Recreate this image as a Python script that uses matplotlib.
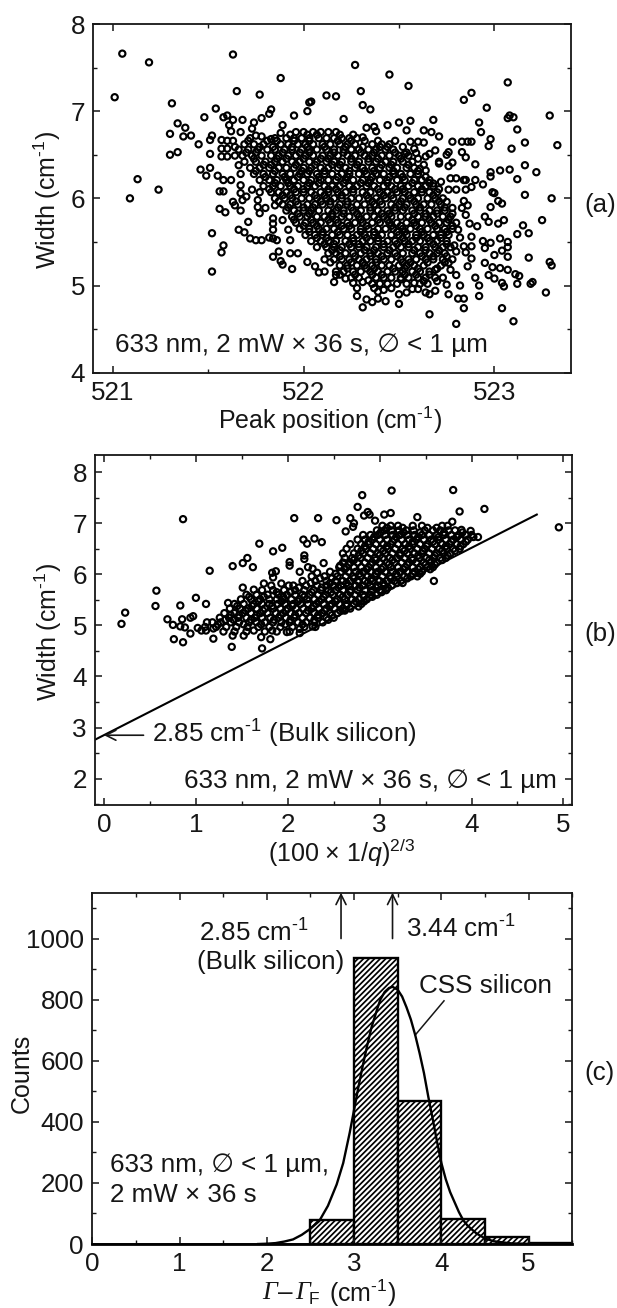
import numpy as np
import matplotlib
matplotlib.use('Agg')
import matplotlib.pyplot as plt
from matplotlib.ticker import MultipleLocator

plt.rcParams['font.family'] = ['Liberation Sans', 'DejaVu Sans']
plt.rcParams['mathtext.fontset'] = 'custom'
plt.rcParams['mathtext.rm'] = 'Liberation Sans'
plt.rcParams['mathtext.it'] = 'Liberation Serif:italic'
plt.rcParams['mathtext.sf'] = 'Liberation Sans:italic'
plt.rcParams['mathtext.default'] = 'rm'
plt.rcParams['hatch.linewidth'] = 1.25

INK = '#161616'

# panel (a): loose points around the cloud, (peak position, width)
loose_a = [
    (521.01,7.16),(521.05,7.66),(521.19,7.56),(521.13,6.22),(521.09,6.00),(521.24,6.10),(521.31,7.09),(521.30,6.74),
    (521.34,6.86),(521.38,6.81),(521.37,6.71),(521.41,6.72),(521.30,6.50),(521.34,6.53),(521.45,6.62),(521.48,6.93),
    (521.54,7.03),(521.52,6.72),(521.51,6.67),(521.51,6.51),(521.46,6.33),(521.51,6.35),(521.49,6.26),(521.55,6.26),
    (521.58,6.21),(521.56,6.08),(521.58,6.08),(521.56,5.88),(521.59,5.84),(521.52,5.60),(521.58,5.46),(521.57,5.38),
    (521.52,5.16),(521.63,7.65),(521.65,7.23),(521.77,7.19),(521.88,7.38),(522.12,7.18),(522.17,7.17),(522.04,7.11),
    (522.03,7.10),(522.02,7.00),(521.83,7.02),(521.82,6.97),(522.21,6.91),(522.27,7.53),(522.30,7.23),(522.31,7.07),
    (522.35,7.02),(522.45,7.42),(522.55,7.29),(522.84,7.13),(522.88,7.21),(522.96,7.04),(523.07,7.33),(523.29,6.95),
    (523.33,6.61),(523.07,6.92),(523.08,6.95),(523.10,6.93),(523.12,6.79),(523.16,6.64),(523.09,6.57),(523.16,6.38),
    (523.22,6.30),(523.12,6.22),(523.16,6.04),(523.30,6.00),(523.25,5.75),(523.15,5.69),(523.18,5.60),(523.12,5.59),
    (523.18,5.32),(523.29,5.27),(523.30,5.23),(523.27,4.92),(523.20,5.04),(523.19,5.02),(523.10,4.59),(523.04,4.74),
    (522.80,4.56),(522.66,4.67),(522.31,4.75),(522.50,4.79),(522.84,4.74),(522.84,4.85),(522.81,4.85),(522.92,4.88),
    (522.76,4.90),(522.28,4.88),(522.33,4.84),(522.36,4.81),(522.39,4.85),(522.43,4.82),(522.92,6.87),(522.93,6.76),
    (522.98,6.68),(522.97,6.60),(522.90,6.39),(522.98,6.30),(522.98,6.25),(523.03,6.32),(523.08,6.33),(522.90,6.21),
    (522.94,6.16),(522.99,6.07),(523.00,6.06),(523.02,5.97),(523.04,5.94),(522.98,5.90),(522.95,5.79),(522.97,5.73),
    (523.02,5.71),(523.05,5.75),(522.94,5.51),(522.98,5.49),(523.03,5.54),(523.07,5.50),(523.07,5.44),(522.95,5.43),
    (523.04,5.40),(523.00,5.35),(523.07,5.33),(523.03,5.20),(523.07,5.18),(523.11,5.13),(523.13,5.11),(523.12,5.02),
    (523.00,5.08),(523.04,5.03),(523.05,4.99),(522.97,5.12),(522.99,5.21),(522.95,5.26),(522.92,5.00),(522.90,5.09),
    (522.86,5.22),(522.88,5.31),(522.82,5.00),(522.80,5.12),(522.75,5.01),(522.78,6.65),(522.83,6.65),(522.86,6.65),
    (522.88,6.65),(522.76,6.53),(522.75,6.50),(522.83,6.53),(522.85,6.47),(522.71,6.40),(522.76,6.37),(522.78,6.41),
    (522.77,6.23),(522.80,6.23),(522.84,6.21),(522.85,6.21),(522.72,6.19),(522.80,6.10),(522.85,6.10),(522.88,6.13),
    (522.76,6.10),(522.84,5.97),(522.86,5.92),(522.78,5.89),(522.83,5.89),(522.75,5.96),(522.85,5.81),(522.87,5.71),
    (522.91,5.68),(522.81,5.64),(522.78,5.65),(522.82,5.55),(522.88,5.56),(522.79,5.46),(522.84,5.45),(522.88,5.45),
    (522.80,5.39),(522.85,5.38),(522.71,6.71),(522.67,6.76),(522.63,6.78),(522.68,6.90),(522.56,6.89),(522.50,6.87),
    (522.54,6.78),(522.44,6.84),(522.37,6.82),(522.33,6.81),(522.38,6.77),(522.31,6.70),(522.56,6.65),(522.60,6.65),
    (522.63,6.64),(522.58,6.57),(522.69,6.55),(522.66,6.51),(522.64,6.48),(522.59,6.52),(522.53,6.51),(522.71,6.42),
    (522.64,6.32),(522.61,6.34),(522.68,6.17),(522.66,6.21),(521.58,6.93),(521.60,6.95),(521.63,6.90),(521.68,6.90),
    (521.74,6.87),(521.78,6.92),(521.61,6.84),(521.62,6.77),(521.67,6.76),(521.73,6.80),(521.75,6.72),(521.78,6.71),
    (521.83,6.68),(521.89,6.84),(521.88,6.75),(521.95,6.95),(521.57,6.67),(521.60,6.66),(521.57,6.57),(521.60,6.57),
    (521.57,6.48),(521.60,6.48),(521.63,6.66),(521.64,6.59),(521.66,6.38),(521.64,6.49),(521.62,6.21),(521.67,6.15),
    (521.67,6.28),(521.67,6.06),(521.70,6.02),(521.68,5.98),(521.67,5.86),(521.63,5.96),(521.64,5.92),(521.71,5.73),
    (521.66,5.64),(521.69,5.61),(521.72,5.54),(521.75,5.52),(521.78,5.52),(521.82,5.55),(521.84,5.54),(521.86,5.52),
    (521.73,6.10),(521.77,6.07),(521.76,5.98),(521.76,5.90),(521.77,5.83),(521.80,5.89),(521.85,5.92),(521.89,5.75),
    (521.84,5.77),(521.84,5.71),(521.84,5.64),(521.92,5.64),(521.93,5.52),(521.93,5.37),(521.87,5.39),(521.84,5.33),
    (521.88,5.28),(521.89,5.24),(521.94,5.19),(521.97,5.37),(522.02,5.27),(522.06,5.22),(522.08,5.15),(522.11,5.16),
    (522.13,5.37),(522.11,5.30),(522.16,5.04),(522.17,5.12),(522.22,5.08),(522.26,5.03),(522.28,4.97),(522.31,5.04),
    (522.34,5.06),(522.37,4.97),(522.39,4.93),(522.42,4.95),(522.46,4.97),(522.50,4.90),(522.54,4.92),(522.57,4.96),
    (522.60,4.96),(522.64,4.92),(522.66,4.90),(522.69,4.94),(522.70,5.05),(522.69,5.18),(522.63,5.05),(522.58,5.03),
    (522.51,5.07),(522.73,5.09),(522.77,5.18),(522.76,5.26),
]

# panel (a): dense part of the cloud, one row of peak positions per width
core_a = [
    (6.76,[521.96,522.00,522.05,522.09,522.13,522.17]),
    (6.69,[521.72,521.85,521.91,521.95,521.99,522.03,522.08,522.12,522.16,522.20,522.24,522.28]),
    (6.62,[521.69,521.74,521.79,521.88,521.92,521.97,522.01,522.05,522.10,522.14,522.19,522.23,522.27,522.36,522.41,522.45]),
    (6.56,[521.66,521.71,521.76,521.81,521.85,521.90,521.94,521.99,522.03,522.07,522.12,522.16,522.21,522.25,522.29,522.34,522.38,522.43,522.47]),
    (6.49,[521.68,521.73,521.78,521.83,521.87,521.92,521.96,522.01,522.05,522.10,522.14,522.18,522.23,522.27,522.32,522.36,522.41,522.45,522.50,522.55]),
    (6.42,[521.69,521.75,521.80,521.85,521.89,521.94,521.98,522.03,522.07,522.12,522.16,522.20,522.25,522.29,522.34,522.38,522.43,522.47,522.52,522.57]),
    (6.35,[521.72,521.77,521.82,521.87,521.91,521.95,522.00,522.04,522.09,522.13,522.18,522.22,522.27,522.31,522.36,522.40,522.45,522.49,522.54,522.58]),
    (6.28,[521.74,521.79,521.84,521.89,521.93,521.98,522.02,522.07,522.11,522.15,522.20,522.24,522.29,522.33,522.38,522.42,522.47,522.51,522.56,522.60]),
    (6.21,[521.77,521.82,521.86,521.91,521.95,522.00,522.04,522.09,522.13,522.17,522.22,522.26,522.31,522.35,522.40,522.44,522.49,522.53,522.58,522.62]),
    (6.14,[521.79,521.84,521.88,521.93,521.97,522.02,522.06,522.11,522.15,522.19,522.24,522.28,522.33,522.37,522.42,522.46,522.51,522.55,522.60,522.64,522.68]),
    (6.07,[521.83,521.87,521.91,521.96,522.00,522.04,522.09,522.13,522.18,522.22,522.26,522.31,522.35,522.40,522.44,522.49,522.53,522.58,522.62,522.66,522.70]),
    (6.00,[521.85,521.90,521.94,521.99,522.03,522.07,522.12,522.16,522.20,522.25,522.29,522.34,522.38,522.43,522.47,522.52,522.56,522.60,522.65,522.69,522.73]),
    (5.93,[521.89,521.93,521.97,522.02,522.06,522.10,522.14,522.19,522.23,522.28,522.32,522.37,522.41,522.46,522.50,522.54,522.59,522.63,522.67,522.72]),
    (5.86,[521.91,521.95,522.00,522.04,522.08,522.13,522.17,522.21,522.26,522.30,522.35,522.39,522.44,522.48,522.52,522.57,522.61,522.66,522.70,522.74]),
    (5.79,[521.94,521.98,522.02,522.07,522.11,522.15,522.20,522.24,522.29,522.33,522.37,522.42,522.46,522.51,522.55,522.60,522.64,522.68,522.73,522.77]),
    (5.72,[521.96,522.01,522.05,522.09,522.14,522.18,522.23,522.27,522.31,522.36,522.40,522.45,522.49,522.54,522.58,522.62,522.67,522.71,522.75,522.80]),
    (5.65,[521.98,522.03,522.08,522.12,522.16,522.21,522.25,522.30,522.34,522.39,522.43,522.47,522.52,522.56,522.61,522.65,522.70,522.74]),
    (5.58,[522.01,522.06,522.10,522.15,522.19,522.23,522.28,522.32,522.37,522.41,522.46,522.50,522.54,522.59,522.63,522.68,522.72,522.76]),
    (5.51,[522.04,522.09,522.13,522.17,522.22,522.26,522.31,522.35,522.39,522.44,522.48,522.53,522.57,522.61,522.66,522.70,522.75]),
    (5.44,[522.07,522.12,522.16,522.20,522.25,522.29,522.33,522.38,522.42,522.47,522.51,522.55,522.60,522.64,522.69,522.73,522.77]),
    (5.37,[522.17,522.22,522.26,522.30,522.35,522.39,522.44,522.48,522.52,522.57,522.61,522.66,522.70,522.74]),
    (5.30,[522.16,522.20,522.24,522.29,522.33,522.38,522.42,522.46,522.51,522.55,522.59,522.64,522.68,522.73,522.78]),
    (5.23,[522.19,522.23,522.28,522.32,522.36,522.41,522.45,522.50,522.54,522.58,522.63,522.72]),
    (5.16,[522.17,522.21,522.26,522.30,522.35,522.39,522.44,522.48,522.52,522.57,522.61,522.66]),
    (5.09,[522.25,522.29,522.38,522.42,522.46,522.51,522.55,522.60,522.64,522.69]),
    (5.02,[522.36,522.40,522.44,522.49,522.54,522.61,522.65]),
]

# panel (a): second set of rows inside the cloud, overlapping the first
overlap_a = [
    (6.73,[521.93,522.02,522.07,522.19,522.26]),
    (6.66,[521.71,521.81,521.86,521.95,522.03,522.18,522.25,522.32,522.39,522.48]),
    (6.59,[521.77,521.84,521.94,522.02,522.11,522.22,522.31,522.40,522.44,522.52]),
    (6.525,[521.70,521.75,521.89,521.98,522.03,522.16,522.21,522.30,522.37,522.48,522.54]),
    (6.455,[521.74,521.86,521.91,522.00,522.09,522.13,522.25,522.34,522.39,522.51,522.60]),
    (6.385,[521.79,521.83,521.96,522.06,522.15,522.19,522.28,522.41,522.46,522.55,522.63]),
    (6.315,[521.75,521.85,521.99,522.03,522.11,522.24,522.32,522.37,522.47,522.60]),
    (6.245,[521.80,521.90,521.97,522.08,522.18,522.23,522.36,522.45,522.52,522.64]),
    (6.175,[521.85,521.92,522.03,522.08,522.21,522.30,522.34,522.44,522.57,522.66]),
    (6.105,[521.82,521.95,522.00,522.13,522.17,522.26,522.39,522.48,522.52,522.62,522.71]),
    (6.035,[521.89,521.93,522.06,522.11,522.20,522.33,522.42,522.46,522.55,522.68]),
    (5.965,[521.87,521.96,522.09,522.14,522.23,522.36,522.40,522.51,522.58,522.71]),
    (5.895,[521.92,522.00,522.05,522.18,522.25,522.35,522.48,522.53,522.61,522.74]),
    (5.825,[521.97,522.03,522.15,522.21,522.28,522.41,522.45,522.58,522.64,522.70,522.78]),
    (5.755,[521.95,522.04,522.13,522.17,522.30,522.39,522.44,522.57,522.66,522.76]),
    (5.685,[522.00,522.07,522.20,522.24,522.33,522.46,522.51,522.59,522.69,522.78]),
    (5.615,[522.03,522.10,522.18,522.30,522.37,522.49,522.53,522.62,522.75]),
    (5.545,[522.07,522.12,522.26,522.33,522.39,522.52,522.59,522.65,522.72]),
    (5.475,[522.11,522.16,522.24,522.29,522.42,522.49,522.55,522.68,522.75]),
    (5.405,[522.15,522.19,522.32,522.37,522.45,522.58,522.64,522.71]),
    (5.335,[522.19,522.27,522.35,522.41,522.49,522.62,522.68,522.75]),
    (5.265,[522.14,522.25,522.31,522.38,522.52,522.56,522.65,522.74]),
    (5.195,[522.23,522.33,522.37,522.47,522.53,522.60,522.70]),
    (5.125,[522.19,522.27,522.36,522.41,522.53,522.59,522.66]),
]

# panel (b): loose points, (x, width)
loose_b = [
    (0.19,5.03),(0.23,5.25),(0.56,5.38),(0.57,5.68),(0.69,5.12),(0.75,5.01),(0.83,5.39),(0.85,5.12),(0.86,7.08),(0.94,5.15),
    (0.97,5.18),(1.00,5.54),(1.11,5.42),(1.15,6.07),(0.76,4.73),(0.86,4.67),(0.83,4.98),(0.88,4.96),(0.94,4.84),(1.02,4.95),
    (1.06,4.90),(1.11,4.90),(1.12,5.06),(1.19,4.74),(1.19,4.94),(1.40,6.16),(1.51,6.22),(1.56,6.32),(1.62,6.14),(1.69,6.60),
    (1.84,6.45),(1.94,6.52),(1.83,6.03),(1.87,6.06),(1.84,5.94),(2.02,6.24),(2.02,6.17),(2.07,7.10),(2.17,6.68),(2.21,6.60),
    (2.29,6.70),(2.37,6.63),(2.33,7.10),(2.18,6.37),(2.18,6.30),(2.22,6.14),(2.27,6.11),(2.32,6.03),(2.39,6.22),(2.53,7.06),
    (2.68,7.10),(2.72,7.00),(2.71,6.93),(2.63,6.84),(2.76,7.32),(2.81,7.55),(2.83,7.15),(2.87,7.22),(2.89,7.17),(2.95,7.05),
    (3.05,7.17),(3.12,7.20),(3.13,7.64),(3.41,7.12),(3.80,7.65),(3.87,7.23),(4.14,7.28),(3.79,7.03),(4.95,6.92),(3.59,5.87),
    (4.07,6.73),(3.99,6.85),(3.89,6.87),(2.77,5.37),(1.39,4.58),(1.72,4.55),(1.81,4.73),(1.71,4.77),(1.52,4.80),(1.40,4.80),
    (1.99,4.87),(2.13,4.85),(2.27,4.98),(2.13,4.93),(1.83,4.90),(1.63,4.90),(1.35,5.44),(1.63,5.70),(1.51,5.74),(1.74,5.82),
    (1.93,5.82),(2.01,5.78),(2.13,6.05),(2.57,6.17),(2.61,6.22),
]

# panel (b): dense band above the line, one row of x values per width
core_b = [
    (4.88,[1.30,1.42,1.55,1.75,1.88,2.02]),
    (4.97,[1.10,1.22,1.33,1.44,1.56,1.68,1.80,1.92,2.05,2.18,2.30]),
    (5.06,[1.18,1.27,1.38,1.47,1.58,1.66,1.75,1.84,1.93,2.02,2.11,2.20,2.29,2.38]),
    (5.15,[1.26,1.36,1.46,1.55,1.64,1.72,1.81,1.90,1.98,2.07,2.16,2.24,2.33,2.42,2.50]),
    (5.24,[1.31,1.42,1.51,1.60,1.70,1.78,1.87,1.95,2.03,2.12,2.20,2.29,2.37,2.46,2.54]),
    (5.33,[1.37,1.48,1.57,1.66,1.75,1.84,1.92,2.00,2.09,2.17,2.26,2.34,2.42,2.51,2.60,2.68]),
    (5.42,[1.42,1.52,1.63,1.72,1.80,1.89,1.97,2.06,2.14,2.22,2.31,2.39,2.48,2.56,2.64,2.72,2.80]),
    (5.51,[1.49,1.60,1.70,1.80,1.88,1.96,2.04,2.13,2.21,2.29,2.37,2.45,2.54,2.62,2.70,2.78,2.86]),
    (5.60,[1.55,1.66,1.78,1.90,1.99,2.08,2.16,2.24,2.33,2.41,2.49,2.57,2.65,2.73,2.82,2.90,2.97]),
    (5.69,[1.72,1.84,1.96,2.08,2.18,2.28,2.36,2.44,2.52,2.60,2.68,2.76,2.84,2.92,3.00,3.07]),
    (5.78,[1.82,2.06,2.20,2.32,2.42,2.50,2.58,2.66,2.74,2.82,2.90,2.98,3.05,3.13]),
    (5.87,[2.16,2.30,2.42,2.52,2.60,2.68,2.76,2.84,2.92,3.00,3.08,3.16,3.23]),
    (5.96,[2.26,2.40,2.54,2.63,2.71,2.79,2.87,2.95,3.03,3.11,3.19,3.27,3.34,3.41]),
    (6.05,[2.46,2.58,2.66,2.74,2.82,2.90,2.98,3.06,3.14,3.22,3.30,3.38,3.46]),
    (6.14,[2.56,2.64,2.72,2.80,2.88,2.96,3.04,3.12,3.20,3.28,3.36,3.44,3.52,3.58]),
    (6.23,[2.60,2.68,2.76,2.84,2.92,3.00,3.08,3.16,3.24,3.32,3.40,3.48,3.56,3.62]),
    (6.32,[2.62,2.70,2.79,2.87,2.95,3.03,3.11,3.19,3.27,3.35,3.43,3.51,3.59,3.66,3.72]),
    (6.41,[2.60,2.72,2.82,2.90,2.98,3.06,3.14,3.22,3.30,3.38,3.46,3.54,3.62,3.70,3.77]),
    (6.50,[2.64,2.76,2.85,2.93,3.01,3.09,3.17,3.25,3.33,3.41,3.49,3.57,3.65,3.73,3.80,3.87]),
    (6.59,[2.68,2.80,2.88,2.96,3.04,3.12,3.20,3.28,3.36,3.44,3.52,3.60,3.68,3.76,3.84,3.91]),
    (6.68,[2.76,2.84,2.92,3.00,3.08,3.16,3.24,3.32,3.40,3.48,3.56,3.64,3.72,3.80,3.88,3.96]),
    (6.77,[2.82,2.90,2.98,3.06,3.14,3.22,3.30,3.38,3.46,3.54,3.62,3.70,3.78,3.86,3.94,4.00]),
    (6.86,[2.97,3.05,3.13,3.21,3.29,3.37,3.49,3.58,3.66,3.75,3.82]),
    (6.95,[3.03,3.12,3.20,3.36,3.46,3.68,3.74]),
]

# panel (b): second set of rows, overlapping the first
overlap_b = [
    (5.02,[1.24,1.52,1.71,1.97,2.16]),
    (5.11,[1.32,1.41,1.60,1.85,2.03,2.29,2.44]),
    (5.20,[1.38,1.47,1.66,1.92,2.08,2.33,2.48]),
    (5.29,[1.54,1.73,1.98,2.22,2.40,2.57,2.62]),
    (5.38,[1.45,1.61,1.83,2.05,2.28,2.46,2.64]),
    (5.47,[1.68,1.93,2.11,2.34,2.52,2.74,2.83]),
    (5.56,[1.58,1.74,1.95,2.18,2.39,2.60,2.83,2.92]),
    (5.65,[1.88,2.03,2.26,2.47,2.68,2.91,3.02]),
    (5.74,[2.12,2.37,2.55,2.78,2.96,3.09]),
    (5.83,[2.25,2.46,2.64,2.87,3.04,3.19,3.25]),
    (5.92,[2.35,2.48,2.72,2.91,3.12,3.30]),
    (6.01,[2.52,2.78,2.96,3.18,3.36,3.44]),
    (6.10,[2.62,2.86,3.02,3.26,3.42,3.55]),
    (6.19,[2.66,2.90,3.10,3.30,3.50,3.60]),
    (6.28,[2.72,2.96,3.14,3.36,3.54,3.68]),
    (6.37,[2.77,3.00,3.22,3.42,3.60,3.74]),
    (6.46,[2.80,3.04,3.27,3.47,3.68,3.82]),
    (6.55,[2.84,3.08,3.32,3.51,3.72,3.88]),
    (6.64,[2.88,3.14,3.36,3.58,3.78,3.94]),
    (6.73,[2.94,3.18,3.42,3.64,3.84,4.02]),
    (6.82,[3.01,3.26,3.44,3.70,3.90]),
    (6.91,[3.08,3.25,3.52,3.62]),
]

# panel (b) straight line
line_x = [-0.09, 4.71]
line_y = [2.77, 7.17]

# panel (c) histogram
bin_left = [2.5, 3.0, 3.5, 4.0, 4.5, 5.0]
bin_counts = [78, 936, 468, 83, 24, 3]

# panel (c) fitted curve
curve_x = [1.9, 2.0, 2.1, 2.2, 2.3, 2.4, 2.5, 2.6, 2.7, 2.8, 2.875, 2.95, 3.0, 3.05, 3.1, 3.15, 3.2, 3.26, 3.3, 3.35,
           3.4, 3.44, 3.5, 3.55, 3.6, 3.65, 3.7, 3.75, 3.8, 3.85, 3.9, 3.95, 4.0, 4.05, 4.1, 4.2, 4.25, 4.3, 4.4, 4.5, 4.6, 4.8, 5.0]
curve_y = [0, 1, 3, 8, 15, 30, 50, 75, 125, 195, 265, 365, 440, 515, 585, 650, 710, 765, 800, 825,
           838, 842, 832, 810, 775, 735, 684, 625, 560, 482, 410, 335, 265, 212, 170, 105, 78, 60, 35, 18, 9, 2, 0]

annot = '633 nm, 2 mW × 36 s, ∅ < 1 µm'
CM = 'cm$^{\\text{-1}}$'
W, H = 617, 1308
FS = 18.7
LAB = 18


def make_axes(fig, l, t, r, b):
    ax = fig.add_axes([l/W, 1-b/H, (r-l)/W, (b-t)/H])
    for s in ax.spines.values():
        s.set_linewidth(1.3)
        s.set_color(INK)
    ax.tick_params(which='major', direction='in', top=True, right=True, length=5, width=1.1,
                   labelsize=FS, colors=INK, pad=6)
    ax.tick_params(which='minor', direction='in', top=True, right=True, length=3, width=1.0, colors=INK)
    return ax


def unpack(loose, *rows):
    xs = [p[0] for p in loose]
    ys = [p[1] for p in loose]
    for core in rows:
        for y, row in core:
            for x in row:
                xs.append(x)
                ys.append(y)
    return xs, ys


def ylab_at(ax, text, px, l, r, py, t, b):
    ax.set_ylabel(text, fontsize=LAB, color=INK, va='center')
    ax.yaxis.set_label_coords((px-l)/(r-l), (b-py)/(b-t))


def xlab_at(ax, text, px, l, r, py, t, b):
    ax.set_xlabel(text, fontsize=LAB, color=INK, va='center')
    ax.xaxis.set_label_coords((px-l)/(r-l), (b-py)/(b-t))


def driver():
    fig = plt.figure(figsize=(W/100, H/100), dpi=100)

    # (a)
    ax = make_axes(fig, 93.3, 24, 570.7, 372.7)
    x, y = unpack(loose_a, core_a, overlap_a)
    ax.scatter(x, y, s=20, facecolors='none', edgecolors='black', linewidths=1.55)
    ax.set_xlim(520.898, 523.40)
    ax.set_ylim(4, 8)
    ax.xaxis.set_major_locator(MultipleLocator(1))
    ax.xaxis.set_minor_locator(MultipleLocator(0.5))
    ax.yaxis.set_major_locator(MultipleLocator(1))
    ax.yaxis.set_minor_locator(MultipleLocator(0.5))
    xlab_at(ax, 'Peak position (' + CM + ')', 330, 93.3, 570.7, 420, 24, 372.7)
    ylab_at(ax, 'Width (' + CM + ')', 47, 93.3, 570.7, 200, 24, 372.7)
    ax.text(521.01, 4.32, annot, fontsize=FS, color=INK, va='center')
    fig.text(584/W, 1-205/H, '(a)', fontsize=FS, color=INK, va='center')

    # (b)
    ax = make_axes(fig, 95.3, 455.3, 571.7, 804.7)
    ax.plot(line_x, line_y, color='black', lw=1.5)
    x, y = unpack(loose_b, core_b, overlap_b)
    ax.scatter(x, y, s=20, facecolors='none', edgecolors='black', linewidths=1.55, zorder=3)
    ax.set_xlim(-0.095, 5.09)
    ax.set_ylim(1.49, 8.33)
    ax.xaxis.set_major_locator(MultipleLocator(1))
    ax.xaxis.set_minor_locator(MultipleLocator(0.5))
    ax.yaxis.set_major_locator(MultipleLocator(1))
    ax.yaxis.set_minor_locator(MultipleLocator(0.5))
    xlab_at(ax, '(100 × 1/$\\mathsf{q}$)$^{2/3}$', 342, 95.3, 571.7, 853, 455.3, 804.7)
    ylab_at(ax, 'Width (' + CM + ')', 48, 95.3, 571.7, 632, 455.3, 804.7)
    ax.annotate('', xy=(0, 2.85), xytext=(0.43, 2.85),
                arrowprops=dict(arrowstyle='->', color=INK, lw=1.2, mutation_scale=18, shrinkA=0, shrinkB=0))
    ax.text(0.52, 2.87, '2.85 ' + CM + ' (Bulk silicon)', fontsize=FS, color=INK, va='center')
    ax.text(0.87, 1.96, annot, fontsize=FS, color=INK, va='center')
    fig.text(584/W, 1-634/H, '(b)', fontsize=FS, color=INK, va='center')

    # (c)
    ax = make_axes(fig, 92.3, 892.7, 572.3, 1244)
    ax.bar(bin_left, bin_counts, width=0.5, align='edge', facecolor='white', edgecolor='black',
           hatch='//////', linewidth=1.7)
    ax.plot(curve_x, curve_y, color='black', lw=1.7, zorder=4)
    ax.plot([0, 5.5], [0, 0], color='black', lw=2, zorder=5, clip_on=False)
    ax.set_xlim(0, 5.5)
    ax.set_ylim(0, 1150)
    ax.xaxis.set_major_locator(MultipleLocator(1))
    ax.xaxis.set_minor_locator(MultipleLocator(0.5))
    ax.yaxis.set_major_locator(MultipleLocator(200))
    ax.yaxis.set_minor_locator(MultipleLocator(100))
    # x label built from pieces, the Gamma is italic serif
    fig.text(262/W, 1-1293/H, 'Γ', family='Liberation Serif', style='italic', fontsize=FS, color=INK, va='center')
    fig.text(278/W, 1-1293/H, '–', fontsize=FS, color=INK, va='center')
    fig.text(295/W, 1-1293/H, 'Γ', family='Liberation Serif', style='italic', fontsize=FS, color=INK, va='center')
    fig.text(309/W, 1-1299/H, 'F', fontsize=12.5, color=INK, va='center')
    fig.text(329/W, 1-1293/H, '(' + CM + ')', fontsize=LAB, color=INK, va='center')
    ylab_at(ax, 'Counts', 22, 92.3, 572.3, 1073, 892.7, 1244)
    for xa in [2.85, 3.44]:
        ax.annotate('', xy=(xa, 1150), xytext=(xa, 1000),
                    arrowprops=dict(arrowstyle='->', color=INK, lw=1.2, mutation_scale=18, shrinkA=0, shrinkB=0))
    ax.text(1.22, 1017, '2.85 ' + CM, fontsize=FS, color=INK, va='center')
    ax.text(1.20, 922, '(Bulk silicon)', fontsize=FS, color=INK, va='center')
    ax.text(3.60, 1032, '3.44 ' + CM, fontsize=FS, color=INK, va='center')
    ax.text(3.74, 844, 'CSS silicon', fontsize=FS, color=INK, va='center')
    ax.plot([4.03, 3.70], [796, 684], color=INK, lw=1.1)
    ax.text(0.2, 258, '633 nm, ∅ < 1 µm,', fontsize=FS, color=INK, va='center')
    ax.text(0.2, 160, '2 mW × 36 s', fontsize=FS, color=INK, va='center')
    fig.text(584/W, 1-1073/H, '(c)', fontsize=FS, color=INK, va='center')

    plt.savefig('out.png', dpi=100)


if __name__ == '__main__':
    driver()
